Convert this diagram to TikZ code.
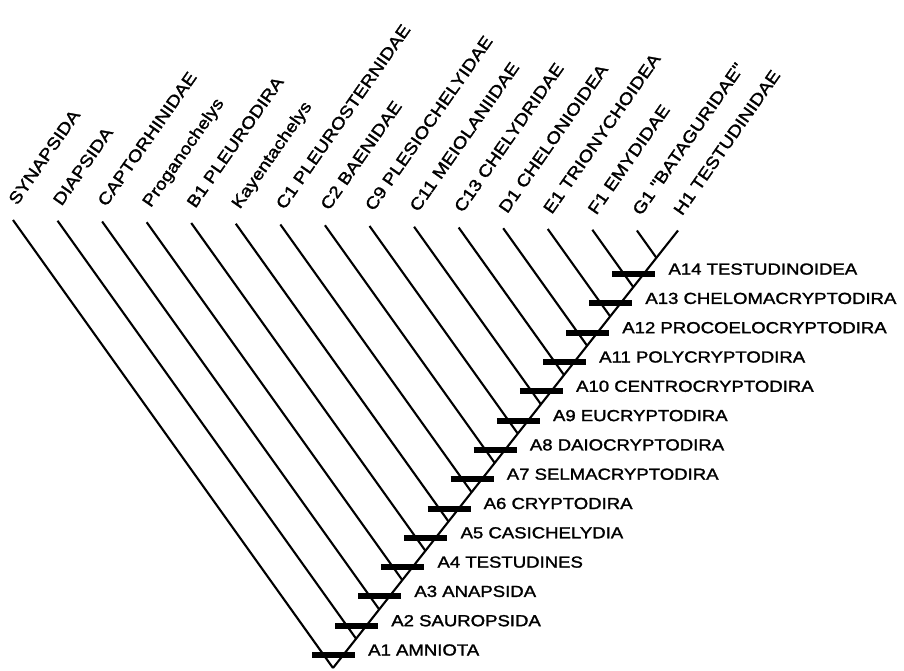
\documentclass[tikz,border=0pt]{standalone}
\usepackage{fontspec}
\newfontfamily\labfont[FakeStretch=1.16,FakeBold=1.6]{Liberation Sans}
\begin{document}
\begin{tikzpicture}[x=1pt,y=-1pt,
  branch/.style={line width=2.1pt,black},
  synbar/.style={line width=6pt,black},
  rlab/.style={anchor=west,inner sep=0pt,font=\labfont\fontsize{16}{16}\selectfont},
  tlab/.style={anchor=base west,inner sep=0pt,rotate=55,font=\labfont\fontsize{16.7}{16.7}\selectfont}]
\useasboundingbox (0,0) rectangle (904,670);
\fill[white] (0,0) rectangle (904,670);
% junctions on the spine and tips
\foreach \k in {0,...,14} {
  \pgfmathsetmacro\nx{333+23.1*\k}
  \pgfmathsetmacro\ny{668-29.3*\k}
  \pgfmathsetmacro\ty{220+0.75*\k}
  \pgfmathsetmacro\tx{\nx-(\ny-\ty)/1.40}
  \coordinate (n\k) at (\nx,\ny);
  \coordinate (t\k) at (\tx,\ty);
}
\coordinate (t15) at (678,230.5);
% branches
\foreach \k in {0,...,14} { \draw[branch] (t\k) -- (n\k); }
\draw[branch] (n0) -- (n14) -- (t15);
% synapomorphy bars
\foreach \k in {0,...,13} {
  \draw[synbar] ([xshift=-21pt,yshift=13pt]n\k) -- ([xshift=22pt,yshift=13pt]n\k);
}
% node labels
\foreach \k/\txt in {0/A1 AMNIOTA, 1/A2 SAUROPSIDA, 2/A3 ANAPSIDA, 3/A4 TESTUDINES,
  4/A5 CASICHELYDIA, 5/A6 CRYPTODIRA, 6/A7 SELMACRYPTODIRA, 7/A8 DAIOCRYPTODIRA,
  8/A9 EUCRYPTODIRA, 9/A10 CENTROCRYPTODIRA, 10/A11 POLYCRYPTODIRA,
  11/A12 PROCOELOCRYPTODIRA, 12/A13 CHELOMACRYPTODIRA, 13/A14 TESTUDINOIDEA} {
  \node[rlab] (a\k) at ([xshift=35pt,yshift=18pt]n\k) {\txt};
}
% terminal labels
\foreach \k/\txt in {0/SYNAPSIDA, 1/DIAPSIDA, 2/CAPTORHINIDAE, 3/Proganochelys,
  4/B1 PLEURODIRA, 5/Kayentachelys, 6/C1 PLEUROSTERNIDAE, 7/C2 BAENIDAE,
  8/C9 PLESIOCHELYIDAE, 9/C11 MEIOLANIIDAE, 10/C13 CHELYDRIDAE,
  11/D1 CHELONIOIDEA, 12/E1 TRIONYCHOIDEA, 13/F1 EMYDIDAE,
  14/G1 "BATAGURIDAE", 15/H1 TESTUDINIDAE} {
  \node[tlab] (l\k) at ([xshift=4pt,yshift=14pt]t\k) {\txt};
}
\end{tikzpicture}
\end{document}
